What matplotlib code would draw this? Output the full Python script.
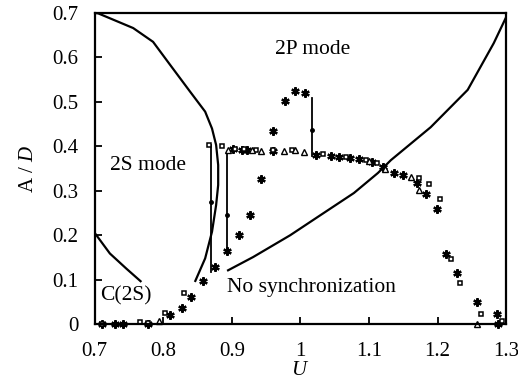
import matplotlib
matplotlib.use("Agg")
import matplotlib.pyplot as plt

plt.rcParams['font.family'] = ['Liberation Serif', 'DejaVu Serif']
plt.rcParams['mathtext.fontset'] = 'custom'
plt.rcParams['mathtext.it'] = 'Liberation Serif:italic'
plt.rcParams['mathtext.rm'] = 'Liberation Serif'

# regime boundaries
left_u = [0.700, 0.705, 0.722, 0.756, 0.785, 0.810, 0.839, 0.861, 0.871, 0.877, 0.880,
          0.880, 0.877, 0.871, 0.861, 0.846]
left_a = [0.700, 0.699, 0.688, 0.666, 0.635, 0.583, 0.523, 0.478, 0.440, 0.403, 0.358,
          0.313, 0.268, 0.208, 0.148, 0.095]
c2s_u = [0.700, 0.722, 0.746, 0.768]
c2s_a = [0.205, 0.159, 0.125, 0.095]
nosync_u = [0.893, 0.931, 0.985, 1.029, 1.078, 1.113, 1.132, 1.190, 1.244, 1.282, 1.303]
nosync_a = [0.120, 0.151, 0.200, 0.245, 0.295, 0.340, 0.369, 0.443, 0.527, 0.632, 0.700]

# measured amplitudes
star_u = [0.711, 0.729, 0.741, 0.777, 0.810, 0.827, 0.840, 0.858, 0.876, 0.893, 0.911, 0.927,
          0.942, 0.960, 0.977, 0.992, 1.007, 0.902, 0.915, 0.922, 0.960,
          1.022, 1.044, 1.056, 1.073, 1.085, 1.105, 1.120, 1.136, 1.149, 1.170, 1.183,
          1.199, 1.213, 1.228, 1.258, 1.287, 1.288]
star_a = [0.0, 0.0, 0.0, 0.0, 0.020, 0.037, 0.061, 0.098, 0.129, 0.164, 0.200, 0.245,
          0.326, 0.435, 0.502, 0.524, 0.519, 0.394, 0.392, 0.392, 0.390,
          0.380, 0.378, 0.377, 0.374, 0.371, 0.364, 0.354, 0.341, 0.335, 0.317, 0.292,
          0.259, 0.157, 0.115, 0.050, 0.022, 0.0]
sq_u = [0.711, 0.766, 0.777, 0.802, 0.830, 0.867, 0.885, 0.905, 0.918, 0.935, 0.960, 0.988,
        1.033, 1.066, 1.095, 1.112, 1.173, 1.188, 1.204, 1.219, 1.233, 1.263, 1.294]
sq_a = [0.0, 0.005, 0.002, 0.025, 0.070, 0.403, 0.400, 0.394, 0.393, 0.392, 0.392, 0.392,
        0.382, 0.376, 0.370, 0.362, 0.328, 0.315, 0.281, 0.146, 0.093, 0.024, 0.007]
tri_u = [0.793, 0.894, 0.930, 0.943, 0.976, 0.992, 1.005, 1.100, 1.124, 1.161, 1.173, 1.258]
tri_a = [0.007, 0.392, 0.392, 0.390, 0.390, 0.392, 0.388, 0.366, 0.350, 0.332, 0.302, 0.0]

# hysteresis jumps: U, top, bottom, arrow point
jumps_u = [0.869, 0.893, 1.017]
jumps_top = [0.403, 0.388, 0.508]
jumps_bot = [0.118, 0.165, 0.378]
jumps_mid = [0.275, 0.245, 0.437]

fig = plt.figure(figsize=(5.18, 3.92), dpi=100)
ax = fig.add_axes([0.183, 0.173, 0.794, 0.794])

for u, a in [(left_u, left_a), (c2s_u, c2s_a), (nosync_u, nosync_a)]:
    ax.plot(u, a, color='black', lw=1.6, solid_capstyle='butt', solid_joinstyle='round')

for u, t, b, m in zip(jumps_u, jumps_top, jumps_bot, jumps_mid):
    ax.plot([u, u], [b, t], color='black', lw=1.3)
    ax.plot([u], [m], 'o', color='black', ms=2.5)

ax.plot(star_u, star_a, ls='none', marker=(6, 2, 0), color='black', ms=6, mew=1.6, clip_on=False)
ax.plot(sq_u, sq_a, ls='none', marker='s', mfc='white', mec='black', ms=3.3, mew=1.1, clip_on=False)
ax.plot(tri_u, tri_a, ls='none', marker='^', mfc='white', mec='black', ms=4.5, mew=1.0, clip_on=False)

ax.text(1.018, 0.617, '2P mode', fontsize=15.5, ha='center', va='center')
ax.text(0.778, 0.358, '2S mode', fontsize=15.5, ha='center', va='center')
ax.text(0.746, 0.063, 'C(2S)', fontsize=15.5, ha='center', va='center')
ax.text(0.893, 0.083, 'No synchronization', fontsize=15.5, ha='left', va='center')

ax.set_xlim(0.7, 1.3)
ax.set_ylim(0, 0.7)
ax.set_xticks([0.7, 0.8, 0.9, 1.0, 1.1, 1.2, 1.3])
ax.set_xticklabels(['0.7', '0.8', '0.9', '1', '1.1', '1.2', '1.3'])
ax.set_yticks([0, 0.1, 0.2, 0.3, 0.4, 0.5, 0.6, 0.7])
ax.set_yticklabels(['0', '0.1', '0.2', '0.3', '0.4', '0.5', '0.6', '0.7'])
ax.tick_params(direction='in', length=5, width=1.3, labelsize=15,
               top=False, right=False)
ax.tick_params(axis='x', pad=13)
ax.tick_params(axis='y', pad=12)
for s in ax.spines.values():
    s.set_linewidth(1.6)

ax.set_xlabel('$U$', fontsize=15, labelpad=0)
ax.set_ylabel('A / $D$', fontsize=15, labelpad=10)

fig.savefig('out.png', dpi=100)
